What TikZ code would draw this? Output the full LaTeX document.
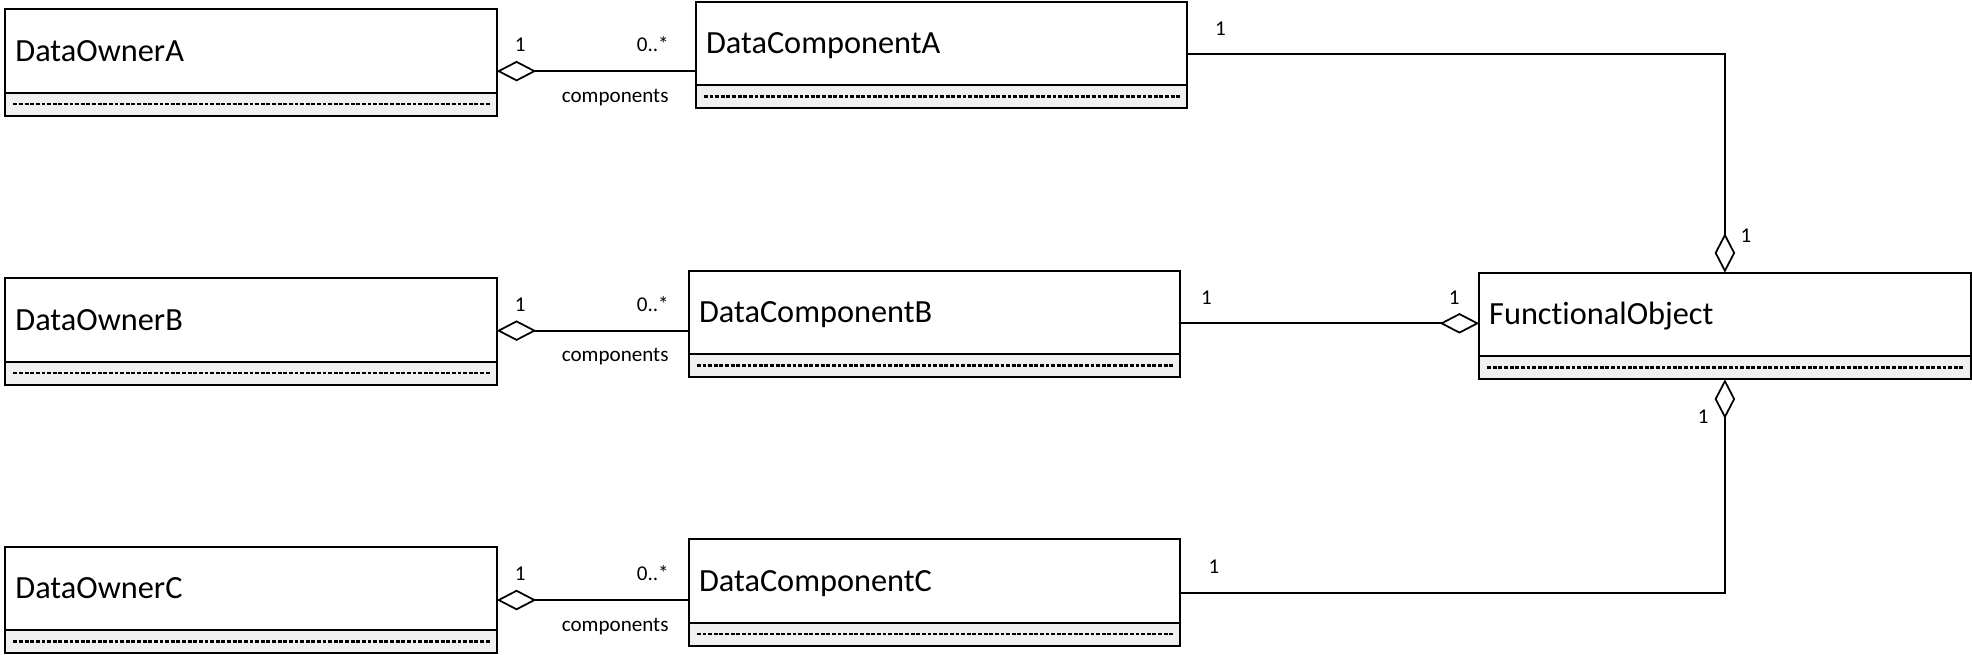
\documentclass[tikz,border=0pt]{standalone}
\usepackage{fontspec}
\setmainfont{Carlito}[Ligatures=NoCommon]
\usepackage{xcolor}
\usepackage{tikz}
\usetikzlibrary{positioning,calc,arrows.meta}

\definecolor{opsgray}{RGB}{240,240,240}

\tikzset{
    classhead/.style={draw, line width=1.1pt, outer sep=0pt, anchor=north west, minimum height=1.666cm,
        text width=9.43cm, inner xsep=0.2cm, inner ysep=0pt, align=left,
        text height=11.8pt, text depth=0pt, font=\fontsize{18.4}{20}\selectfont},
    classops/.style={draw, line width=1.1pt, outer sep=0pt, fill=opsgray, anchor=north,
        minimum width=9.83cm, minimum height=0.466cm, inner sep=0pt},
    opsline/.style={line width=1.4pt, dash pattern=on 2.2pt off 1pt},
    agg/.style={line width=1pt, {Diamond[open,length=0.79cm,width=0.41cm]}-},
    mult/.style={inner sep=0pt, anchor=base, font=\fontsize{12}{14}\selectfont}
}

\begin{document}
\begin{tikzpicture}[x=0.02cm, y=-0.02cm]
    \useasboundingbox (0,0) rectangle (1972,655);

    % classes
    \node [classhead] (ownerA) at (5.4,9.3) {DataOwnerA};
    \node [classops] (ownerA-ops) at (ownerA.south) {}; \draw [opsline] ([xshift=0.16cm]ownerA-ops.west) -- ([xshift=-0.14cm]ownerA-ops.east);
    \node [classhead] (ownerB) at (5.4,278.3) {DataOwnerB};
    \node [classops] (ownerB-ops) at (ownerB.south) {}; \draw [opsline] ([xshift=0.16cm]ownerB-ops.west) -- ([xshift=-0.14cm]ownerB-ops.east);
    \node [classhead] (ownerC) at (5.4,546.7) {DataOwnerC};
    \node [classops] (ownerC-ops) at (ownerC.south) {}; \draw [opsline] ([xshift=0.16cm]ownerC-ops.west) -- ([xshift=-0.14cm]ownerC-ops.east);
    \node [classhead] (compA) at (696,1.7) {DataComponentA};
    \node [classops] (compA-ops) at (compA.south) {}; \draw [opsline] ([xshift=0.16cm]compA-ops.west) -- ([xshift=-0.14cm]compA-ops.east);
    \node [classhead] (compB) at (689,270.7) {DataComponentB};
    \node [classops] (compB-ops) at (compB.south) {}; \draw [opsline] ([xshift=0.16cm]compB-ops.west) -- ([xshift=-0.14cm]compB-ops.east);
    \node [classhead] (compC) at (689,539.3) {DataComponentC};
    \node [classops] (compC-ops) at (compC.south) {}; \draw [opsline] ([xshift=0.16cm]compC-ops.west) -- ([xshift=-0.14cm]compC-ops.east);
    \node [classhead] (fo) at (1479.2,272.7) {FunctionalObject};
    \node [classops] (fo-ops) at (fo.south) {}; \draw [opsline] ([xshift=0.16cm]fo-ops.west) -- ([xshift=-0.14cm]fo-ops.east);

    % owners to components
    \coordinate (aA) at ($(ownerA.east)+(0,20.2)$);
    \draw [agg] (aA) -- (compA.west |- aA);
    \node [mult] (mAo) at ($(aA)+(23.5,-19.3)$) {1};
    \node [mult] (mAc) at ($(aA)+(156,-19.3)$) {0..*};
    \node [mult] (rA) at ($(aA)+(118.4,31)$) {components};

    \coordinate (aB) at ($(ownerB.east)+(0,10.7)$);
    \draw [agg] (aB) -- (compB.west |- aB);
    \node [mult] (mBo) at ($(aB)+(23.5,-19.3)$) {1};
    \node [mult] (mBc) at ($(aB)+(156,-19.3)$) {0..*};
    \node [mult] (rB) at ($(aB)+(118.4,31)$) {components};

    \coordinate (aC) at ($(ownerC.east)+(0,11.7)$);
    \draw [agg] (aC) -- (compC.west |- aC);
    \node [mult] (mCo) at ($(aC)+(23.5,-19.3)$) {1};
    \node [mult] (mCc) at ($(aC)+(156,-19.3)$) {0..*};
    \node [mult] (rC) at ($(aC)+(118.4,31)$) {components};

    % components to functional object
    \coordinate (fA) at ($(compA.east)+(0,11)$);
    \draw [agg] (fo.north) |- (fA);
    \node [mult] (mAf) at ($(fA)+(33,-19.3)$) {1};
    \node [mult] (mFa) at ($(fo.north)+(21,-30.4)$) {1};

    \coordinate (fB) at ($(compB.east)+(0,11)$);
    \coordinate (fBo) at (fo.west |- fB);
    \draw [agg] (fBo) -- (fB);
    \node [mult] (mBf) at ($(fB)+(26,-19)$) {1};
    \node [mult] (mFb) at ($(fBo)+(-25,-19)$) {1};

    \coordinate (fC) at ($(compC.east)+(0,11.7)$);
    \draw [agg] (fo-ops.south) |- (fC);
    \node [mult] (mCf) at ($(fC)+(33.5,-19.4)$) {1};
    \node [mult] (mFc) at ($(fo-ops.south)+(-21.8,44)$) {1};
\end{tikzpicture}
\end{document}
